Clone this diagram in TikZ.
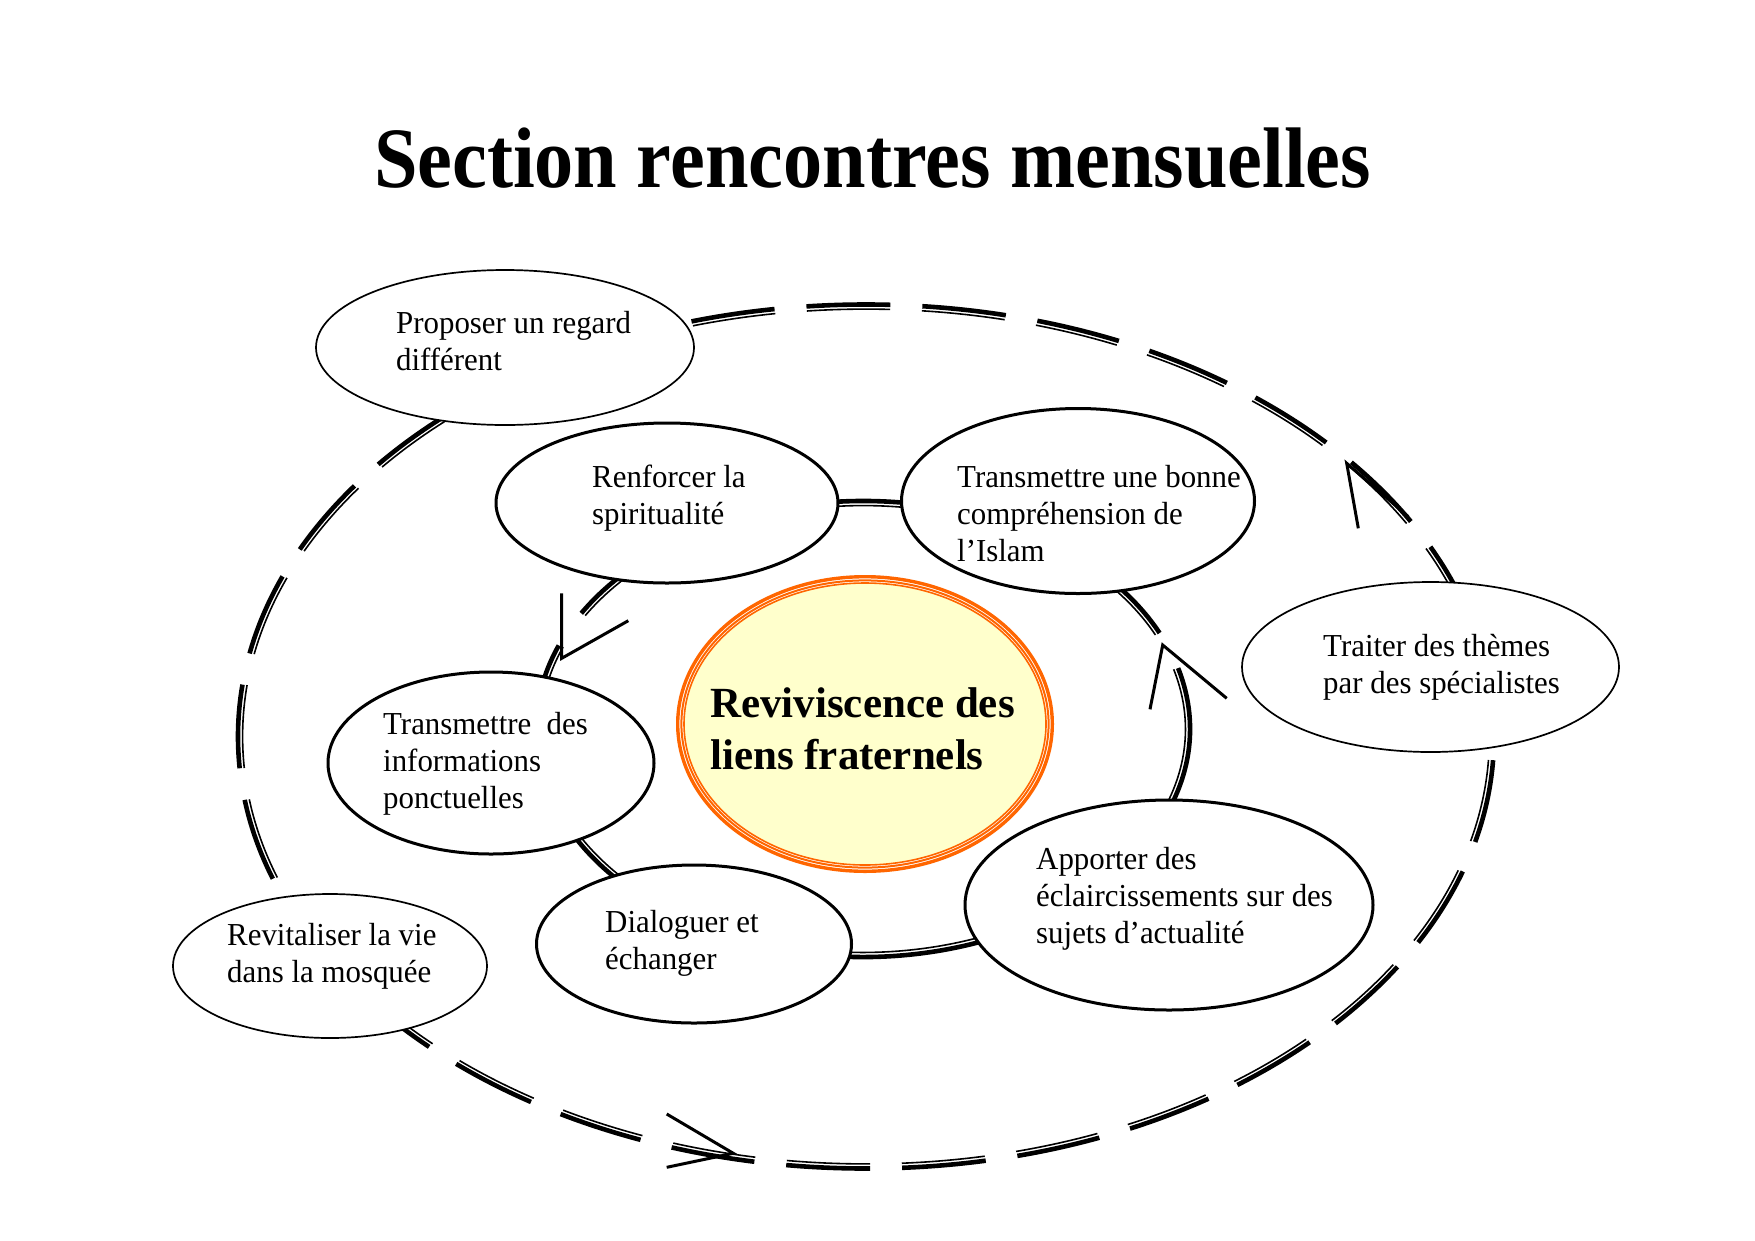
\documentclass[tikz,border=0pt]{standalone}
\usepackage{fontspec}
\setmainfont{Liberation Serif}
\newfontfamily\titlefont{Liberation Serif}[FakeStretch=0.91]
\newfontfamily\bodyfont{Liberation Serif}[FakeStretch=0.965]
\usetikzlibrary{shapes.geometric}
\definecolor{orng}{HTML}{FF6600}
\definecolor{lyel}{HTML}{FFFFCC}
\tikzset{
  bubble/.style={ellipse, draw=black, fill=white, inner sep=0pt},
  thinb/.style={bubble, line width=1.7pt},
  thickb/.style={bubble, line width=3pt},
  txt/.style={anchor=north west, align=left, inner sep=0pt, font=\fontsize{32}{37}\selectfont\bodyfont},
  loopthick/.style={line width=4.6pt},
  loopthin/.style={line width=1.6pt},
  arm/.style={line width=3pt, line join=miter},
}
\begin{document}
\begin{tikzpicture}[x=1pt,y=-1pt]
\useasboundingbox (0,0) rectangle (1755,1240);
\fill[white] (0,0) rectangle (1755,1240);

% title
\node[anchor=base, inner sep=0pt, font=\fontsize{86}{100}\selectfont\titlefont\bfseries] (title) at (872.5,187) {Section rencontres mensuelles};

% loop centres
\coordinate (O) at (866,736.5);
\coordinate (I) at (863,729);

% outer dashed loop (thick outside, thin inside)
\draw[loopthick, dash pattern=on 84pt off 32pt, dash phase=92.3pt] (O) ellipse [x radius=628, y radius=432];
\draw[loopthin, dash pattern=on 83.28pt off 31.73pt, dash phase=91.51pt] (O) ellipse [x radius=623.4, y radius=427.4];

% inner loop
\draw[loopthick] (I) ++(-15.5:327 and 228) arc[start angle=-15.5, end angle=201.5, x radius=327, y radius=228];
\draw[loopthin] (I) ++(-15.5:322.4 and 223.4) arc[start angle=-15.5, end angle=201.5, x radius=322.4, y radius=223.4];
\draw[loopthick] (I) ++(210.5:327 and 228) arc[start angle=210.5, end angle=335.1, x radius=327, y radius=228];
\draw[loopthin] (I) ++(210.5:322.4 and 223.4) arc[start angle=210.5, end angle=335.1, x radius=322.4, y radius=223.4];

% arrowheads
\coordinate (t1) at (561.7,658.3);
\coordinate (t1a) at (561.7,593.3);
\coordinate (t1b) at (628.3,620.7);
\draw[arm] (t1a) -- (t1) -- (t1b);
\coordinate (t2) at (1162.7,645);
\coordinate (t2a) at (1150,709.3);
\coordinate (t2b) at (1226.7,698.3);
\draw[arm] (t2a) -- (t2) -- (t2b);
\coordinate (t3) at (1346.7,463.3);
\coordinate (t3a) at (1358.3,528.3);
\coordinate (t3b) at (1408.3,516.7);
\draw[arm] (t3a) -- (t3) -- (t3b);
\coordinate (t4) at (733.3,1153.3);
\coordinate (t4a) at (666.7,1114);
\coordinate (t4b) at (666.7,1167.3);
\draw[arm] (t4a) -- (t4) -- (t4b);

% bubbles
\node[thinb, minimum width=378pt, minimum height=155pt] (pro) at (505,347.5) {};
\node[thickb, minimum width=342pt, minimum height=160pt] (ren) at (667,503) {};
\node[thickb, minimum width=353pt, minimum height=185pt] (tra) at (1078,501) {};
\node[thinb, minimum width=377pt, minimum height=170pt] (trt) at (1430.5,667) {};
\node[thickb, minimum width=326pt, minimum height=182pt] (inf) at (491,763) {};
\node[thickb, minimum width=408pt, minimum height=210pt] (app) at (1169,905) {};
\node[thickb, minimum width=315pt, minimum height=158pt] (dia) at (694,944) {};
\node[thinb, minimum width=314pt, minimum height=144pt] (rev) at (330,966) {};

% centre
\node[ellipse, inner sep=0pt, fill=lyel, draw=orng, line width=1.6pt, minimum width=362pt, minimum height=282pt] (cen) at (865,724) {};
\draw[orng, line width=3.4pt] (cen.center) ellipse [x radius=187.3, y radius=147.3];
\draw[orng, line width=2pt] (cen.center) ellipse [x radius=183.6, y radius=143.6];

% texts
\node[txt] (proT) at (396,307.1) {\strut Proposer un regard\\différent};
\node[txt] (renT) at (592,461.1) {\strut Renforcer la\\spiritualité};
\node[txt] (traT) at (957,461.1) {\strut Transmettre une bonne\\compréhension de\\l’Islam};
\node[txt] (trtT) at (1323,630.1) {\strut Traiter des thèmes\\par des spécialistes};
\node[txt] (infT) at (383,708.1) {\strut Transmettre~~des\\informations\\ponctuelles};
\node[txt] (appT) at (1036,843.1) {\strut Apporter des\\éclaircissements sur des\\sujets d’actualité};
\node[txt] (diaT) at (605,906.1) {\strut Dialoguer et\\échanger};
\node[txt] (revT) at (227,919.1) {\strut Revitaliser la vie\\dans la mosquée};
\node[anchor=north west, align=left, inner sep=0pt, font=\fontsize{43}{52}\selectfont\bfseries] (cenT) at (710,681) {\strut Reviviscence des\\liens fraternels};
\end{tikzpicture}
\end{document}
